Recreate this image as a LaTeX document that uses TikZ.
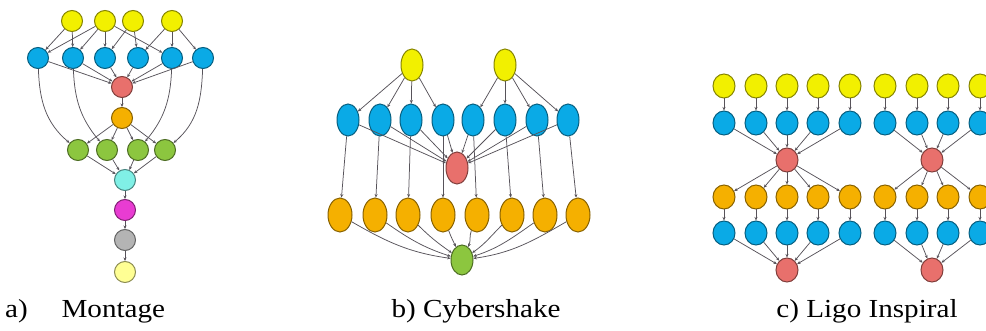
\documentclass[tikz,border=0pt]{standalone}
\usepackage{fontspec}
\usepackage{tikz}
\usetikzlibrary{arrows.meta,shapes.geometric}
\newfontfamily\capfont[FakeStretch=1.12]{Liberation Serif}

\definecolor{jobyellow}{HTML}{F2F000}
\definecolor{jobblue}{HTML}{0AAAE6}
\definecolor{jobred}{HTML}{E8706C}
\definecolor{joborange}{HTML}{F5B000}
\definecolor{jobgreen}{HTML}{8CC63F}
\definecolor{jobcyan}{HTML}{80F0E6}
\definecolor{jobmagenta}{HTML}{E83CD2}
\definecolor{jobgray}{HTML}{B4B4B4}
\definecolor{joblight}{HTML}{FFFF94}
\definecolor{edgegray}{HTML}{57535A}

\begin{document}
\begin{tikzpicture}[x=1pt, y=-1pt,
  job/.style={draw=#1!55!black, fill=#1, line width=1pt, inner sep=0pt},
  mnode/.style={circle, minimum size=21pt},
  cnode/.style={ellipse, minimum width=22pt, minimum height=32pt},
  lnode/.style={ellipse, minimum width=22pt, minimum height=24pt},
  dep/.style={-{Stealth[length=3.5pt, width=3pt]}, draw=edgegray, line width=0.75pt},
  caption/.style={font=\capfont\fontsize{26}{30}\selectfont, inner sep=0pt, anchor=base}]
\clip (0, 0) rectangle (986, 331);

\node [job=jobyellow, mnode] (my1) at (72, 21) {};
\node [job=jobyellow, mnode] (my2) at (105, 21) {};
\node [job=jobyellow, mnode] (my3) at (133, 21) {};
\node [job=jobyellow, mnode] (my4) at (172, 21) {};
\foreach \i/\x in {1/38, 2/73, 3/105, 4/138, 5/172, 6/203}
  \node [job=jobblue, mnode] (mb\i) at (\x, 58) {};
\node [job=jobred, mnode] (mr) at (122, 87) {};
\node [job=joborange, mnode] (mo) at (122, 118) {};
\foreach \i/\x in {1/78, 2/107, 3/138, 4/165}
  \node [job=jobgreen, mnode] (mg\i) at (\x, 150) {};
\node [job=jobcyan, mnode] (mc) at (125, 180) {};
\node [job=jobmagenta, mnode] (mm) at (125, 210) {};
\node [job=jobgray, mnode] (mgr) at (125, 240) {};
\node [job=joblight, mnode] (ml) at (125, 272) {};

\foreach \a/\b in {1/1, 1/2, 2/1, 2/2, 2/3, 2/5, 3/3, 3/4, 4/4, 4/5, 4/6}
  \draw [dep] (my\a) -- (mb\b);
\foreach \i in {1,...,6}
  \draw [dep] (mb\i) -- (mr);
\draw [dep] (mr) -- (mo);
\foreach \i in {1,...,4} {
  \draw [dep] (mo) -- (mg\i);
  \draw [dep] (mg\i) -- (mc);
}
\foreach \a/\b/\o/\n in {1/1/-88/140, 2/2/-88/130, 5/3/-92/50, 6/4/-92/40}
  \draw [dep] (mb\a) to [out=\o, in=\n] (mg\b);
\draw [dep] (mc) -- (mm);
\draw [dep] (mm) -- (mgr);
\draw [dep] (mgr) -- (ml);

\node [job=jobyellow, cnode] (cy1) at (412, 65) {};
\node [job=jobyellow, cnode] (cy2) at (505, 65) {};
\foreach \i/\x in {1/348, 2/380, 3/411, 4/443, 5/473, 6/505, 7/537, 8/568}
  \node [job=jobblue, cnode] (cb\i) at (\x, 120) {};
\node [job=jobred, cnode] (cr) at (457, 168) {};
\foreach \i/\x in {1/340, 2/375, 3/408, 4/443, 5/477, 6/512, 7/545, 8/578}
  \node [job=joborange, cnode, minimum width=24pt, minimum height=34pt] (co\i) at (\x, 215) {};
\node [job=jobgreen, cnode, minimum height=30pt] (cg) at (462, 260) {};

\foreach \i in {1,...,4}
  \draw [dep] (cy1) -- (cb\i);
\foreach \i in {5,...,8}
  \draw [dep] (cy2) -- (cb\i);
\foreach \i in {1,...,8} {
  \draw [dep] (cb\i) -- (cr);
  \draw [dep] (cb\i) -- (co\i);
}
\foreach \i/\o/\n in {1/-30/172, 2/-35/162, 3/-45/145, 4/-70/115, 5/-110/65, 6/-135/35, 7/-145/18, 8/-150/8}
  \draw [dep] (co\i) to [out=\o, in=\n] (cg);

\foreach \i/\x in {1/724, 2/756, 3/787, 4/818, 5/850, 6/885, 7/917, 8/948, 9/980} {
  \node [job=jobyellow, lnode] (ly\i) at (\x, 86) {};
  \node [job=jobblue, lnode] (lb\i) at (\x, 123) {};
  \node [job=joborange, lnode] (lo\i) at (\x, 197) {};
  \node [job=jobblue, lnode] (lc\i) at (\x, 233) {};
  \draw [dep] (ly\i) -- (lb\i);
  \draw [dep] (lo\i) -- (lc\i);
}
\node [job=jobred, lnode] (lr1) at (787, 160) {};
\node [job=jobred, lnode] (ls1) at (787, 270) {};
\node [job=jobred, lnode] (lr2) at (932, 160) {};
\node [job=jobred, lnode] (ls2) at (932, 270) {};
\foreach \i in {1,...,5} {
  \draw [dep] (lb\i) -- (lr1);
  \draw [dep] (lr1) -- (lo\i);
  \draw [dep] (lc\i) -- (ls1);
}
\foreach \i in {6,...,9} {
  \draw [dep] (lb\i) -- (lr2);
  \draw [dep] (lr2) -- (lo\i);
  \draw [dep] (lc\i) -- (ls2);
}

\node [caption, anchor=base west] (capa) at (5, 318) {a)\hspace{1.3em}Montage};
\node [caption] (capb) at (476, 318) {b) Cybershake};
\node [caption] (capc) at (867, 318) {c) Ligo Inspiral};
\end{tikzpicture}
\end{document}
